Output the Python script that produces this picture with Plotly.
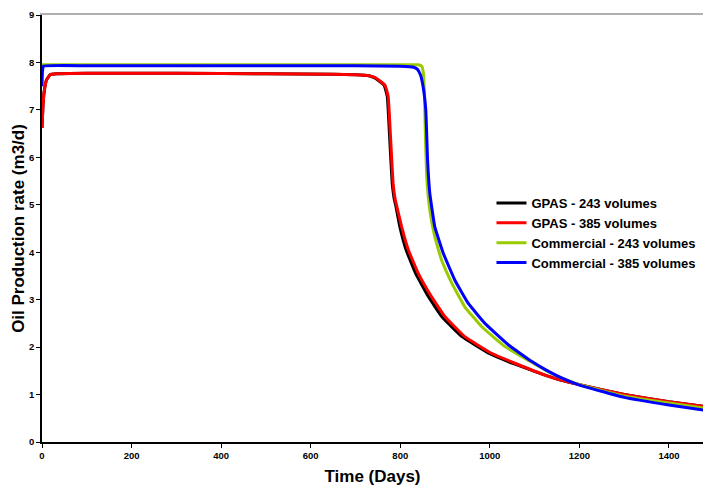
import plotly.graph_objects as go

# GPAS - 243 volumes (black)
t_gpas243 = [0, 2, 4.5, 10, 18, 33, 100, 300, 500, 650, 700, 730, 744, 764, 771, 775, 779, 782, 786, 790, 799, 813, 834, 863, 893, 938, 1000, 1053, 1123, 1160, 1200, 1300, 1400, 1480]
v_gpas243 = [6.62, 7.05, 7.36, 7.63, 7.74, 7.76, 7.77, 7.77, 7.76, 7.75, 7.74, 7.72, 7.67, 7.52, 7.28, 6.65, 5.94, 5.45, 5.15, 4.98, 4.54, 4.05, 3.56, 3.06, 2.64, 2.22, 1.86, 1.65, 1.41, 1.30, 1.21, 1.0, 0.85, 0.75]

# GPAS - 385 volumes (red)
t_gpas385 = [0, 2, 4.5, 10, 18, 33, 100, 300, 500, 650, 700, 730, 744, 766, 773, 777, 781, 784, 788, 792, 803, 818, 840, 870, 900, 944, 1004, 1056, 1123, 1160, 1200, 1300, 1400, 1480]
v_gpas385 = [6.62, 7.05, 7.36, 7.63, 7.74, 7.76, 7.77, 7.77, 7.76, 7.75, 7.74, 7.72, 7.68, 7.52, 7.28, 6.65, 5.94, 5.45, 5.15, 4.98, 4.54, 4.05, 3.56, 3.06, 2.64, 2.22, 1.87, 1.66, 1.41, 1.30, 1.21, 1.0, 0.85, 0.75]

# Commercial - 243 volumes (green)
t_com243 = [0, 100, 400, 700, 800, 840, 848, 852, 854, 856, 859, 866, 877, 892, 915, 944, 982, 1034, 1093, 1123, 1160, 1200, 1300, 1400, 1480]
v_com243 = [7.95, 7.95, 7.95, 7.95, 7.95, 7.95, 7.92, 7.75, 7.3, 6.5, 5.6, 4.89, 4.33, 3.84, 3.35, 2.85, 2.43, 2.01, 1.68, 1.52, 1.35, 1.21, 0.97, 0.82, 0.71]

# Commercial - 385 volumes (blue)
t_com385 = [0, 1, 3, 100, 400, 700, 800, 830, 838, 845, 851, 857, 861, 866, 877, 896, 922, 952, 989, 1041, 1093, 1123, 1160, 1200, 1300, 1400, 1480]
v_com385 = [7.5, 7.8, 7.92, 7.93, 7.93, 7.93, 7.92, 7.9, 7.86, 7.74, 7.49, 7.0, 5.94, 5.24, 4.54, 3.98, 3.41, 2.92, 2.5, 2.05, 1.70, 1.53, 1.35, 1.20, 0.94, 0.78, 0.67]

x_ticks = [0, 200, 400, 600, 800, 1000, 1200, 1400]
y_ticks = [0, 1, 2, 3, 4, 5, 6, 7, 8, 9]

font_family = "Arial, Liberation Sans, sans-serif"

fig = go.Figure()
series = [
    ("GPAS - 243 volumes", t_gpas243, v_gpas243, "#000000"),
    ("GPAS - 385 volumes", t_gpas385, v_gpas385, "#ff0000"),
    ("Commercial - 243 volumes", t_com243, v_com243, "#99cc00"),
    ("Commercial - 385 volumes", t_com385, v_com385, "#0000ff"),
]
for name, t, v, c in series:
    fig.add_trace(go.Scatter(x=t, y=v, name=name, mode="lines",
                             line=dict(color=c, width=3, shape="spline", smoothing=0.3)))

# invisible trace on a top axis to draw the grey top border line at y=9
fig.add_trace(go.Scatter(x=[None], y=[None], xaxis="x2", showlegend=False, hoverinfo="skip"))

fig.update_layout(
    width=703, height=486,
    margin=dict(l=42, r=0, t=15, b=44),
    paper_bgcolor="white", plot_bgcolor="white",
    font=dict(family=font_family, color="black"),
    showlegend=True,
    legend=dict(x=0.68, y=0.595, xanchor="left", yanchor="top",
                font=dict(size=13, family=font_family, color="black", weight="bold"),
                bgcolor="rgba(0,0,0,0)", tracegroupgap=0, itemwidth=30),
    xaxis=dict(range=[0, 1476], tickvals=x_ticks, ticktext=[str(v) for v in x_ticks],
               showgrid=False, zeroline=False, showline=True, linecolor="black", linewidth=1.5,
               ticks="outside", ticklen=4, tickcolor="black",
               tickfont=dict(size=9.5, family=font_family, weight="bold"),
               title=dict(text="<b>Time (Days)</b>", font=dict(size=17, family=font_family), standoff=11)),
    xaxis2=dict(range=[0, 1476], overlaying="x", side="top", showline=True, linecolor="#b0b0b0",
                linewidth=1.5, showticklabels=False, ticks="", showgrid=False, zeroline=False),
    yaxis=dict(range=[0, 9], tickvals=y_ticks, ticktext=[str(v) for v in y_ticks],
               showgrid=False, zeroline=False, showline=True, linecolor="black", linewidth=1.5,
               ticks="outside", ticklen=4, tickcolor="black",
               tickfont=dict(size=9.5, family=font_family, weight="bold"),
               title=dict(text="<b>Oil Production rate (m3/d)</b>", font=dict(size=17, family=font_family), standoff=0)),
)

fig.write_html("out.html")
